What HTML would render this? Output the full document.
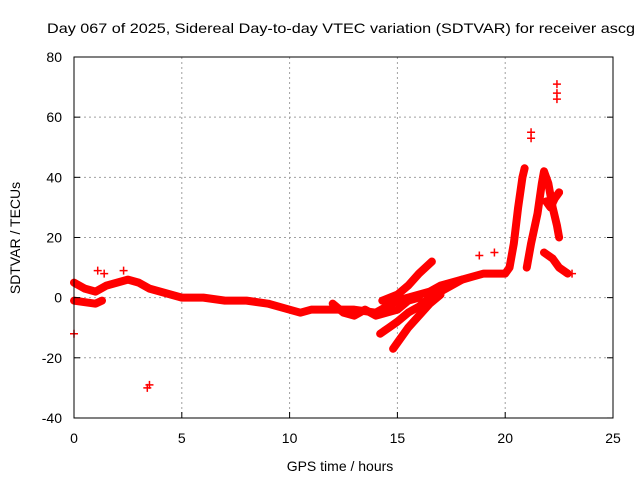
<!DOCTYPE html>
<html><head><meta charset="utf-8"><style>
body{margin:0;background:#fff}
svg text{font-family:"Liberation Sans",sans-serif;font-size:14px;fill:#000}
</style></head><body>
<svg width="640" height="480">
<g id="grid"></g>
<g id="marks"></g>
<rect x="74" y="57" width="539" height="361" fill="none" stroke="#000"/>
<g id="ticks"></g>
<text x="47" y="33" textLength="588" lengthAdjust="spacingAndGlyphs">Day 067 of 2025, Sidereal Day-to-day VTEC variation (SDTVAR) for receiver ascg</text>
<text x="340" y="471" text-anchor="middle">GPS time / hours</text>
<text transform="translate(20,238) rotate(-90)" text-anchor="middle">SDTVAR / TECUs</text>
</svg>
<script>
const xTicks=[0,5,10,15,20,25];
const yTicks=[-40,-20,0,20,40,60,80];
const trackMainT=[0,0.5,1,1.5,2,2.5,3,3.5,4,4.5,5,6,7,8,9,10,10.5,11,12,13,14,14.5,15,15.5,16,16.5,17,17.5,18,18.5,19,19.5,20,20.2,20.4,20.6,20.8,20.9];
const trackMainV=[5,3,2,4,5,6,5,3,2,1,0,0,-1,-1,-2,-4,-5,-4,-4,-4,-5,-3,-1,0,1,2,4,5,6,7,8,8,8,10,18,30,40,43];
const trackLowT=[0,0.5,1,1.3];
const trackLowV=[-1,-1.5,-2,-1];
const trackUpT=[14.3,15,15.5,16,16.6];
const trackUpV=[-1,1,4,8,12];
const trackD1T=[14.2,14.6,15,15.5,16,16.5,17,17.5,18];
const trackD1V=[-12,-10,-8,-5,-3,0,2,4,6];
const trackD2T=[14.8,15,15.5,16,16.5,17];
const trackD2V=[-17,-15,-10,-6,-2,1];
const trackMidT=[12,12.5,13,13.5,14,14.5,15,15.5,16];
const trackMidV=[-2,-5,-6,-4,-6,-5,-4,-1,0];
const trackP2T=[21,21.2,21.5,21.7,21.8,22,22.2,22.4,22.5];
const trackP2V=[10,18,28,38,42,38,30,24,20];
const trackP3T=[21.9,22.1,22.3,22.5];
const trackP3V=[32,30,33,35];
const trackTailT=[21.8,22.2,22.5,22.9];
const trackTailV=[15,13,10,8];
const isoT=[0,3.4,3.5,21.2,21.2,22.4,22.4,22.4,1.1,1.4,2.3,18.8,19.5,23.1];
const isoV=[-12,-30,-29,53,55,71,68,66,9,8,9,14,15,8];
const X=t=>74+t*21.56, Y=v=>57+(80-v)*3.008;
const NS='http://www.w3.org/2000/svg';
const grid=document.getElementById('grid'),ticks=document.getElementById('ticks'),marks=document.getElementById('marks');
function mk(tag,attrs,parent){const e=document.createElementNS(NS,tag);for(const k in attrs)e.setAttribute(k,attrs[k]);parent.appendChild(e);return e;}
xTicks.forEach(t=>{
  if(t>0&&t<25){const g=mk('line',{x1:X(t),x2:X(t),y1:57,y2:418,stroke:'#a0a0a0','stroke-dasharray':'2,3'},grid);
  
  }
  const l=mk('text',{x:X(t),y:443,'text-anchor':'middle'},ticks);l.textContent=t;
  
  
  mk('line',{x1:X(t),x2:X(t),y1:418,y2:412,stroke:'#000'},ticks);
});
yTicks.forEach(v=>{
  if(v>-40&&v<80){const g=mk('line',{x1:74,x2:613,y1:Y(v),y2:Y(v),stroke:'#a0a0a0','stroke-dasharray':'2,3'},grid);
  
  }
  const l=mk('text',{x:62,y:Y(v)+5,'text-anchor':'end'},ticks);l.textContent=v;
  
  
  mk('line',{x1:74,x2:80,y1:Y(v),y2:Y(v),stroke:'#000'},ticks);
  mk('line',{x1:613,x2:607,y1:Y(v),y2:Y(v),stroke:'#000'},ticks);
});
function track(ts,vs,name){
  const pts=ts.map((t,i)=>X(t)+','+Y(vs[i])).join(' ');
  const p=mk('polyline',{points:pts,fill:'none',stroke:'#f00','stroke-width':8,'stroke-linejoin':'round','stroke-linecap':'round'},marks);
  
  
}
track(trackMainT,trackMainV,'track-main');
track(trackLowT,trackLowV,'track-low');
track(trackUpT,trackUpV,'track-upper');
track(trackD1T,trackD1V,'track-descent-1');
track(trackD2T,trackD2V,'track-descent-2');
track(trackMidT,trackMidV,'track-mid');
track(trackP2T,trackP2V,'track-peak-2');
track(trackP3T,trackP3V,'track-peak-3');
track(trackTailT,trackTailV,'track-tail');
isoT.forEach((t,i)=>{
  const x=X(t),y=Y(isoV[i]);
  const p=mk('path',{d:`M${x-4},${y}H${x+4}M${x},${y-4}V${y+4}`,stroke:'#f00','stroke-width':1.5},marks);
  
  
});
</script>
</body></html>
